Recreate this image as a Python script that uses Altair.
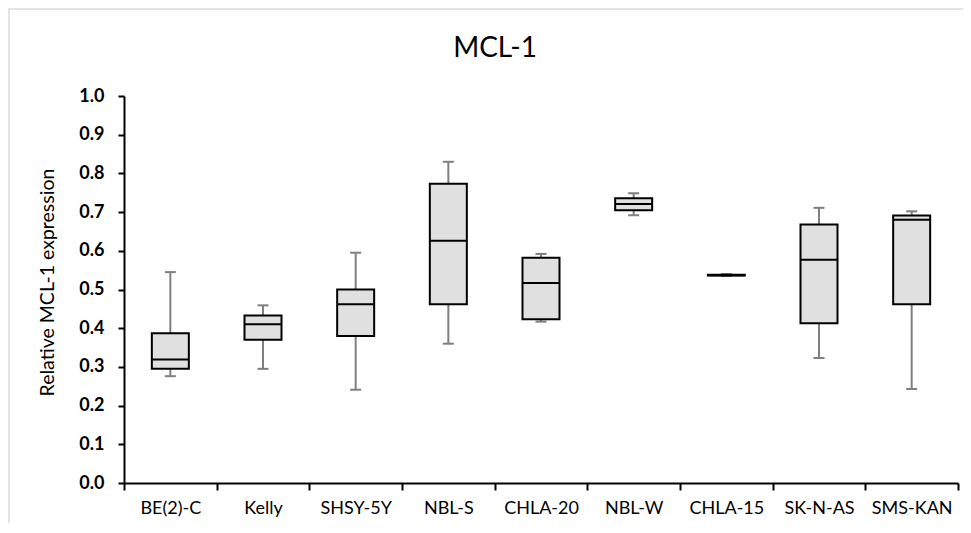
import altair as alt
import pandas as pd

cell_lines = ["BE(2)-C", "Kelly", "SHSY-5Y", "NBL-S", "CHLA-20", "NBL-W", "CHLA-15", "SK-N-AS", "SMS-KAN"]
whisker_min = [0.276, 0.295, 0.241, 0.360, 0.417, 0.692, 0.535, 0.323, 0.243]
q1 = [0.295, 0.370, 0.380, 0.462, 0.423, 0.705, 0.536, 0.413, 0.462]
median = [0.319, 0.410, 0.462, 0.626, 0.517, 0.721, 0.537, 0.577, 0.680]
q3 = [0.387, 0.433, 0.500, 0.773, 0.582, 0.736, 0.538, 0.668, 0.691]
whisker_max = [0.545, 0.459, 0.595, 0.830, 0.592, 0.749, 0.540, 0.711, 0.702]
y_ticks = [0.0, 0.1, 0.2, 0.3, 0.4, 0.5, 0.6, 0.7, 0.8, 0.9, 1.0]
chart_title = "MCL-1"

df = pd.DataFrame({
    "cell": cell_lines, "lo": whisker_min, "q1": q1,
    "med": median, "q3": q3, "hi": whisker_max,
})

FONT = "Lato"
W, H = 834, 387

x_axis = alt.Axis(
    labelAngle=0, labelFontSize=18, labelFont=FONT, labelColor="#000000",
    tickBand="extent", tickSize=7, tickWidth=2, tickColor="#000000",
    domainColor="#000000", domainWidth=2, labelPadding=9,
)
x_scale = alt.Scale(paddingInner=0, paddingOuter=0)
y_scale = alt.Scale(domain=[0, 1], nice=False, zero=True)
y_axis = alt.Axis(
    values=y_ticks, tickCount=len(y_ticks) + 1, format=".1f", grid=False, labelOverlap=False,
    labelFontSize=18, labelFontWeight="bold", labelFont=FONT, labelColor="#000000",
    tickSize=6, tickWidth=2, tickColor="#000000",
    domainColor="#000000", domainWidth=2, labelPadding=14,
    title="Relative MCL-1 expression", titleFont=FONT, titleFontSize=19.5,
    titleFontWeight="normal", titleColor="#000000", titlePadding=21, titleY=186,
)


def X():
    return alt.X("cell:N", sort=cell_lines, title=None, scale=x_scale, axis=x_axis)


def Y(field):
    return alt.Y(field, scale=y_scale, axis=y_axis)


base = alt.Chart(df)
one = alt.Chart(pd.DataFrame({"t": [chart_title]}))

frame = one.mark_rect(
    fill="transparent", stroke="#e4e4e4", strokeWidth=2
).encode(
    x=alt.value(-115), x2=alt.value(W + 40),
    y=alt.value(-87), y2=alt.value(H + 80),
)

title = one.mark_text(
    font=FONT, fontSize=28, color="#000000", align="center", baseline="alphabetic"
).encode(
    text="t:N", x=alt.value(371), y=alt.value(-39),
)

whisk = base.mark_rule(color="#7f7f7f", strokeWidth=2).encode(
    x=X(), y=Y("lo:Q"), y2="hi:Q",
)
cap_lo = base.mark_tick(color="#7f7f7f", size=11, thickness=2, opacity=1).encode(
    x=X(), y=Y("lo:Q")
)
cap_hi = base.mark_tick(color="#7f7f7f", size=11, thickness=2, opacity=1).encode(
    x=X(), y=Y("hi:Q")
)
box = base.mark_bar(size=37, fill="#e0e0e0", stroke="#000000", strokeWidth=2, opacity=1).encode(
    x=X(), y=Y("q1:Q"), y2="q3:Q"
)
med = base.mark_tick(color="#000000", size=37, thickness=2, opacity=1).encode(
    x=X(), y=Y("med:Q")
)

chart = alt.layer(frame, title, whisk, cap_lo, cap_hi, box, med).properties(
    width=W, height=H,
    autosize=alt.AutoSizeParams(type="none"),
    padding={"left": 116, "top": 88, "right": 5, "bottom": 40},
).configure_view(stroke=None)

chart.save("out.html", embed_options={"renderer": "svg", "actions": False})
